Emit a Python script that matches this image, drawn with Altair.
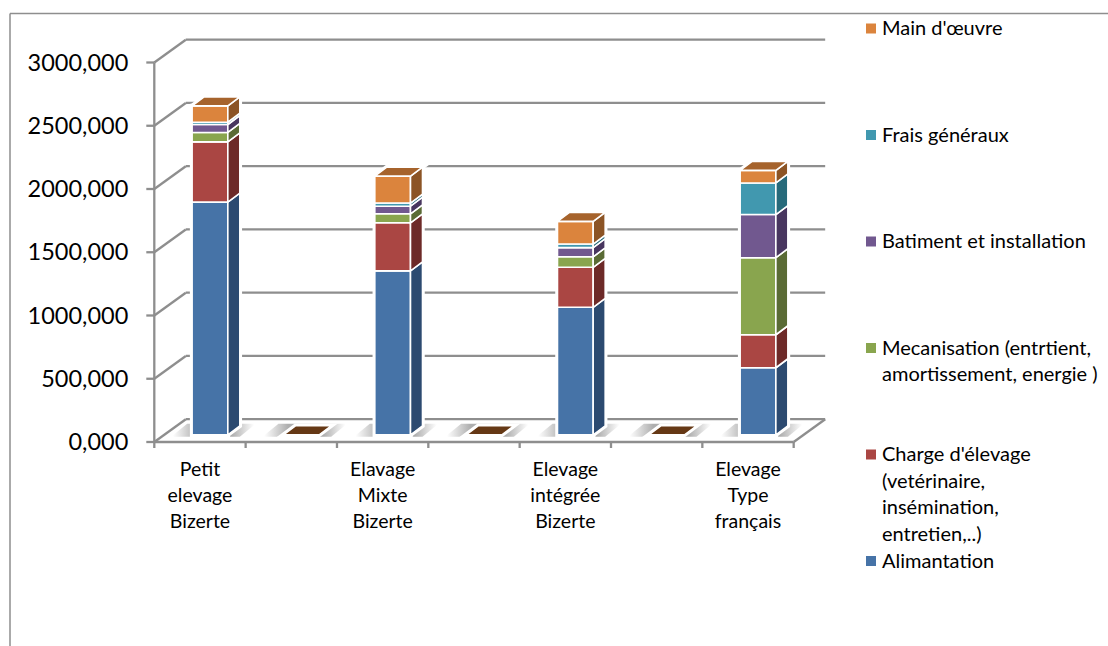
import altair as alt
import pandas as pd

# Cost structure per farm type (blank slots sit between the four farm types)
categories = ["Petit\nelevage\nBizerte", "", "Elavage\nMixte\nBizerte", "",
              "Elevage\nintégrée\nBizerte", "", "Elevage\nType\nfrançais"]
alimentation = [1839, 0, 1296, 0, 1008, 0, 530]
charge = [477, 0, 380, 0, 316, 0, 261]
mecanisation = [74, 0, 71, 0, 83, 0, 609]
batiment = [63, 0, 60, 0, 73, 0, 341]
frais = [18, 0, 25, 0, 28, 0, 250]
main_oeuvre = [129, 0, 213, 0, 179, 0, 99]

series_names = ["Alimantation",
                "Charge d'élevage\n(vetérinaire,\ninsémination,\nentretien,..)",
                "Mecanisation (entrtient,\namortissement, energie )",
                "Batiment et installation",
                "Frais généraux",
                "Main d'œuvre"]
series_values = [alimentation, charge, mecanisation, batiment, frais, main_oeuvre]
front_colors = ["#4673a7", "#aa4643", "#89a54e", "#71588f", "#4198af", "#db843d"]
side_colors = ["#2c4a70", "#6d2a28", "#5a6b35", "#48365f", "#276a7b", "#8c5425"]
top_color = "#a6632c"
empty_top_color = "#653815"
y_ticks = [0, 500, 1000, 1500, 2000, 2500, 3000]

# Canvas and projection constants (pixels)
W, H = 1108, 646
X0, SLOT = 154.3, 91.34
Y0, K = 442.0, 0.1265
LINE = "#8e8e8e"
FONT = "Lato"


def dx(px):
    return px / SLOT


def dv(px):
    return px / K


WALL_X, WALL_V = dx(31.5), dv(22.8)
BAR_W, DEPTH_X, DEPTH_V = dx(35.7), dx(12), dv(9)
BAR_SHIFT_X, BAR_SHIFT_V = dx(10), dv(7.2)

xs = alt.Scale(domain=[-X0 / SLOT, (W - X0) / SLOT], nice=False, zero=False)
ys = alt.Scale(domain=[(Y0 - H) / K, Y0 / K], nice=False, zero=False)
X = alt.X("x:Q", scale=xs, axis=None)
Y = alt.Y("y:Q", scale=ys, axis=None)

# Faces of every stacked segment
front_rows, side_rows, top_rows, shadow_rows = [], [], [], []
for slot in range(len(categories)):
    left = slot + 0.5 + BAR_SHIFT_X - BAR_W / 2
    right = left + BAR_W
    base = BAR_SHIFT_V
    level = base
    for s, values in enumerate(series_values):
        v = values[slot]
        if v > 0:
            key = f"{slot}-{s}"
            front_rows.append(dict(x=left, x2=right, y=level, y2=level + v, fill=front_colors[s]))
            side_rows.append(dict(k=key, x=right, y=level, y2=level + v, fill=side_colors[s]))
            side_rows.append(dict(k=key, x=right + DEPTH_X, y=level + DEPTH_V,
                                  y2=level + v + DEPTH_V, fill=side_colors[s]))
        level += v
    cap = top_color if level > base else empty_top_color
    top_rows.append(dict(k=slot, y=level, x=left, x2=right, fill=cap))
    top_rows.append(dict(k=slot, y=level + DEPTH_V, x=left + DEPTH_X, x2=right + DEPTH_X, fill=cap))
    shadow_rows.append(dict(k=slot, y=base - dv(2), x=left - dx(21), x2=right + dx(12)))
    shadow_rows.append(dict(k=slot, y=base + dv(11), x=left - dx(5), x2=right + dx(28)))

front = pd.DataFrame(front_rows)
side = pd.DataFrame(side_rows)
top = pd.DataFrame(top_rows)
shadow = pd.DataFrame(shadow_rows)

n = len(categories)
grid = pd.DataFrame([dict(x=WALL_X, x2=n + WALL_X, y=t + WALL_V, y2=t + WALL_V) for t in y_ticks])
diag = pd.DataFrame([dict(x=0, x2=WALL_X, y=t, y2=t + WALL_V) for t in y_ticks]
                    + [dict(x=n, x2=n + WALL_X, y=0, y2=WALL_V)])
ticks_y = pd.DataFrame([dict(x=-dx(8), x2=0, y=t, y2=t) for t in y_ticks])
axis_y = pd.DataFrame([dict(x=0, x2=0, y=0, y2=max(y_ticks))])
floor = pd.DataFrame([dict(x=0, x2=n, y=0, y2=0)])
ticks_x = pd.DataFrame([dict(x=i, x2=i, y=0, y2=-dv(6)) for i in range(n + 1)])
axis_lines = pd.concat([grid, diag, ticks_y, axis_y, floor, ticks_x], ignore_index=True)

y_labels = pd.DataFrame([dict(x=-dx(26), y=t - dv(1), text=f"{t},000") for t in y_ticks])
x_labels = pd.DataFrame([dict(x=i + 0.5, y=-dv(34), text=c)
                         for i, c in enumerate(categories) if c])

# Legend entries are evenly spaced, newest series on top
LEG_TOP, LEG_STEP = 28.5, 106.5
legend = pd.DataFrame([dict(px=LEG_TOP + i * LEG_STEP,
                            text=name, fill=front_colors[len(series_names) - 1 - i])
                       for i, name in enumerate(reversed(series_names))])
legend["base"] = legend["px"] + 6.5

FILL = alt.Color("fill:N", scale=None)
PX = alt.Y("px:Q", scale=None, axis=None)
BASE = alt.Y("base:Q", scale=None, axis=None)

rules = alt.Chart(axis_lines).mark_rule(color=LINE, strokeWidth=2.3).encode(
    x=X, x2="x2:Q", y=Y, y2="y2:Q")

floor_shadow = alt.Chart(shadow).mark_area(
    orient="horizontal",
    fill=alt.LinearGradient(gradient="linear", x1=0, x2=1, y1=0, y2=0, stops=[
        alt.GradientStop(color="#ffffff", offset=0.02),
        alt.GradientStop(color="#aeaeae", offset=0.3),
        alt.GradientStop(color="#aeaeae", offset=0.72),
        alt.GradientStop(color="#ffffff", offset=0.98)]),
).encode(y=Y, x=alt.X("x:Q", scale=xs, axis=None), x2="x2:Q", detail="k:N")


def faces(stroke_width):
    f = alt.Chart(front).mark_rect(stroke="white", strokeWidth=stroke_width).encode(
        x=X, x2="x2:Q", y=Y, y2="y2:Q", color=FILL)
    s = alt.Chart(side).mark_area(stroke="white", strokeWidth=stroke_width).encode(
        x=X, y=Y, y2="y2:Q", color=FILL, detail="k:N")
    t = alt.Chart(top).mark_area(orient="horizontal", stroke="white", strokeWidth=stroke_width).encode(
        y=Y, x=X, x2="x2:Q", color=FILL, detail="k:N")
    return [f, s, t]


y_text = alt.Chart(y_labels).mark_text(font=FONT, fontSize=23.5, align="right", baseline="middle",
                                       color="#000000").encode(x=X, y=Y, text="text:N")
x_text = alt.Chart(x_labels).mark_text(font=FONT, fontSize=19.5, align="center", baseline="alphabetic",
                                       color="#000000", lineBreak="\n", lineHeight=26.2).encode(
    x=X, y=Y, text="text:N")
leg_swatch = alt.Chart(legend).mark_square(size=100, opacity=1).encode(
    x=alt.value(871), y=PX, color=FILL)
leg_text = alt.Chart(legend).mark_text(font=FONT, fontSize=20, align="left", baseline="alphabetic",
                                       color="#000000", lineBreak="\n", lineHeight=26.6).encode(
    x=alt.value(882), y=BASE, text="text:N")

frame_top = alt.Chart(pd.DataFrame({"a": [0]})).mark_rule(color="#8e8e8e", strokeWidth=1.5).encode(
    x=alt.value(10), x2=alt.value(W), y=alt.value(13.5))
frame_left = alt.Chart(pd.DataFrame({"a": [0]})).mark_rule(color="#8e8e8e", strokeWidth=1.5).encode(
    x=alt.value(10), y=alt.value(13.5), y2=alt.value(H))

halo = [l for l in faces(4.5)]
solid = [l for l in faces(1.6)]

chart = alt.layer(
    frame_top, frame_left, rules, floor_shadow, *halo, *solid,
    y_text, x_text, leg_swatch, leg_text,
).properties(
    width=W, height=H, padding=0, autosize=alt.AutoSizeParams(type="none"),
    background="white",
).configure_view(stroke=None)

chart.save("out.html", embed_options={"renderer": "svg", "actions": False})
